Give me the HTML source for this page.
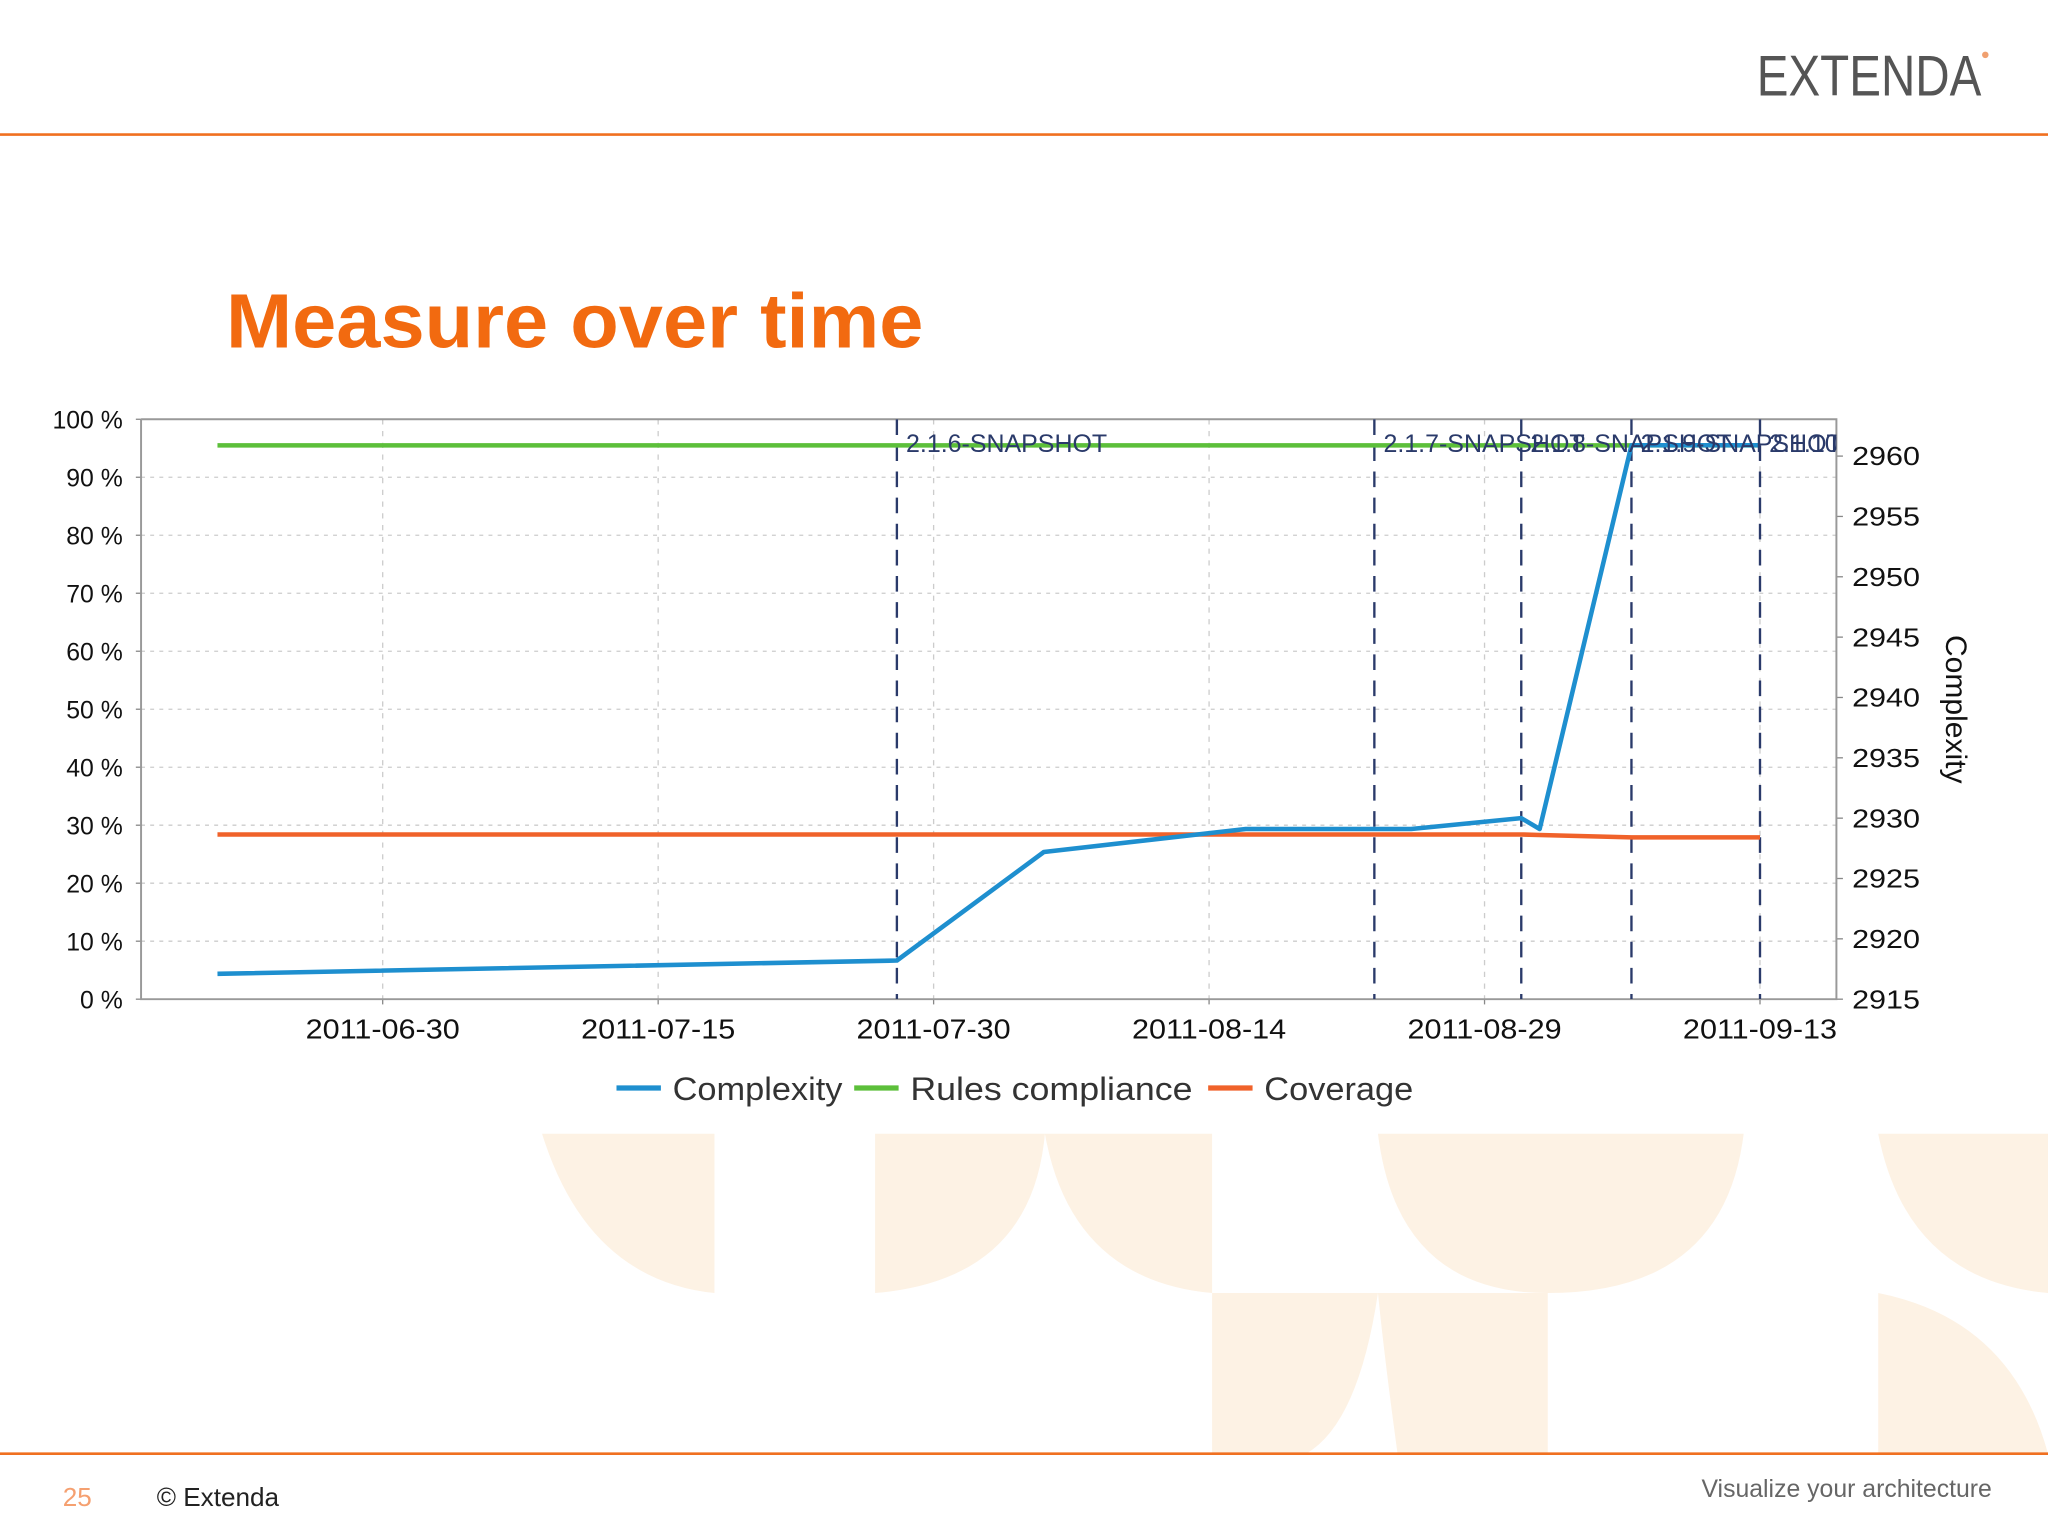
<!DOCTYPE html>
<html><head><meta charset="utf-8"><style>
html,body{margin:0;padding:0;background:#fff;}
svg{display:block;}
text{font-family:"Liberation Sans",sans-serif;}
</style></head><body>
<svg id="s" width="2048" height="1536" viewBox="0 0 1568 1176" xmlns="http://www.w3.org/2000/svg">
<defs><clipPath id="pc"><rect x="108" y="321" width="1298" height="444"/></clipPath></defs>
<g fill="#fdf2e4">
<path d="M415 868 H547 V990 Q450 980 415 868Z"/>
<path d="M670 868 H800 Q790 980 670 990Z"/>
<path d="M800 868 H928 V990 Q820 980 800 868Z"/>
<path d="M1055 868 H1335 Q1320 990 1185 990 Q1070 990 1055 868Z"/>
<path d="M1438 868 H1568 V990 Q1460 980 1438 868Z"/>
<path d="M928 990 H1055 Q1040 1090 1000 1113 H928Z"/>
<path d="M1055 990 H1185 V1113 H1070 Q1060 1040 1055 990Z"/>
<path d="M1438 990 Q1540 1010 1568 1113 H1438Z"/>
</g>
<line x1="0" y1="103" x2="1568" y2="103" stroke="#f07020" stroke-width="2"/>
<text x="1345" y="73" font-size="44" fill="#555" textLength="172" lengthAdjust="spacingAndGlyphs">EXTENDA</text>
<circle cx="1520" cy="42" r="2.5" fill="#f0a070"/>
<text x="173" y="266" font-size="59" font-weight="bold" fill="#f26a10" textLength="534" lengthAdjust="spacingAndGlyphs">Measure over time</text>
<g id="chart"></g>
<line x1="0" y1="1113" x2="1568" y2="1113" stroke="#f07020" stroke-width="2"/>
<text x="48" y="1153" font-size="20" fill="#f5a070">25</text>
<text x="120" y="1153" font-size="20" fill="#222">© Extenda</text>
<text x="1525" y="1146" font-size="19" fill="#666" text-anchor="end">Visualize your architecture</text>
</svg>
<script>
const dayOffsets=[-9,28,36,47,56,62,63,68,75];
const complexity=[2917.1,2918.2,2927.2,2929.1,2929.1,2930.0,2929.1,2960.9,2960.9];
const compliance=[95.5,95.5,95.5,95.5,95.5,95.5,95.5,95.5,95.5];
const coverage=[28.4,28.4,28.4,28.4,28.4,28.4,28.3,27.9,27.9];
const xTickLabels=["2011-06-30","2011-07-15","2011-07-30","2011-08-14","2011-08-29","2011-09-13"];
const xTickDays=[0,15,30,45,60,75];
const leftTicks=[0,10,20,30,40,50,60,70,80,90,100];
const rightTicks=[2915,2920,2925,2930,2935,2940,2945,2950,2955,2960];
const eventDays=[28,54,62,68,75];
const eventLabels=["2.1.6-SNAPSHOT","2.1.7-SNAPSHOT","2.1.8-SNAPSHOT","2.1.9-SNAPSHOT","2.1.10-SNAPSHOT"];

const NS="http://www.w3.org/2000/svg";
const L=108,R=1406,T=321,B=765;
const X=d=>293+d*14.06;
const YL=v=>B-(v/100)*(B-T);
const YR=v=>765-(v-2915)*9.24;
const g=document.getElementById('chart');
function mk(tag,a,parent){const e=document.createElementNS(NS,tag);for(const k in a)e.setAttribute(k,a[k]);(parent||g).appendChild(e);return e;}
leftTicks.forEach(v=>{
 const y=YL(v);
 const e=mk('line',{x1:L,x2:R,y1:y,y2:y,stroke:'#ccc','stroke-dasharray':'3,4','stroke-width':1});
 
 
 const t=mk('text',{x:94,y:y+7,'font-size':19,'text-anchor':'end',fill:'#111'});t.textContent=v+' %';
 
 
 mk('line',{x1:L-4,x2:L,y1:y,y2:y,stroke:'#888'});
});
xTickDays.forEach((d,i)=>{
 const x=X(d);
 const e=mk('line',{x1:x,x2:x,y1:T,y2:B,stroke:'#ccc','stroke-dasharray':'4,5','stroke-width':1});
 
 
 const t=mk('text',{x:x,y:795,'font-size':21,'text-anchor':'middle',fill:'#111',textLength:118,lengthAdjust:'spacingAndGlyphs'});t.textContent=xTickLabels[i];
 
 
 mk('line',{x1:x,x2:x,y1:B,y2:B+4,stroke:'#888'});
});
rightTicks.forEach(v=>{
 const y=YR(v);
 const t=mk('text',{x:1418,y:y+7,'font-size':20,fill:'#111',textLength:52,lengthAdjust:'spacingAndGlyphs'});t.textContent=v;
 
 
 mk('line',{x1:R,x2:R+5,y1:y,y2:y,stroke:'#888'});
});
const ax=mk('path',{d:`M${L} ${T} V${B} H${R} V${T} H${L}`,fill:'none',stroke:'#999','stroke-width':1.5});


const at=mk('text',{x:0,y:0,'font-size':23,fill:'#111','text-anchor':'middle',transform:'translate(1490,543) rotate(90)'});at.textContent='Complexity';


const cg=mk('g',{'clip-path':'url(#pc)'});
eventDays.forEach((d,i)=>{
 const x=X(d);
 const e=mk('line',{x1:x,x2:x,y1:T,y2:B,stroke:'#2a3a6a','stroke-width':1.8,'stroke-dasharray':'12,8'},cg);
 
 
});
function series(vals,yf,color,name){
 const pts=dayOffsets.map((d,i)=>X(d).toFixed(1)+','+yf(vals[i]).toFixed(1)).join(' ');
 const e=mk('polyline',{points:pts,fill:'none',stroke:color,'stroke-width':3.5,'stroke-linejoin':'round'},cg);
 
 
}
series(compliance,YL,'#5cbf3a','rules-compliance-line');
series(coverage,YL,'#f0622a','coverage-line');
series(complexity,YR,'#1e8fcf','complexity-line');
eventDays.forEach((d,i)=>{
 const t=mk('text',{x:X(d)+7,y:346,'font-size':19,fill:'#2a3a6a',textLength:eventLabels[i].length*11,lengthAdjust:'spacingAndGlyphs'},cg);t.textContent=eventLabels[i];
 
 
});
const leg=[["Complexity","#1e8fcf",472,130],["Rules compliance","#5cbf3a",654,216],["Coverage","#f0622a",925,114]];
leg.forEach(l=>{
 const lg=mk('g',{});
 
 
 mk('line',{x1:l[2],x2:l[2]+34,y1:833,y2:833,stroke:l[1],'stroke-width':4},lg);
 const t=mk('text',{x:l[2]+43,y:842,'font-size':25,fill:'#333',textLength:l[3],lengthAdjust:'spacingAndGlyphs'},lg);t.textContent=l[0];
});
</script>
</body></html>
